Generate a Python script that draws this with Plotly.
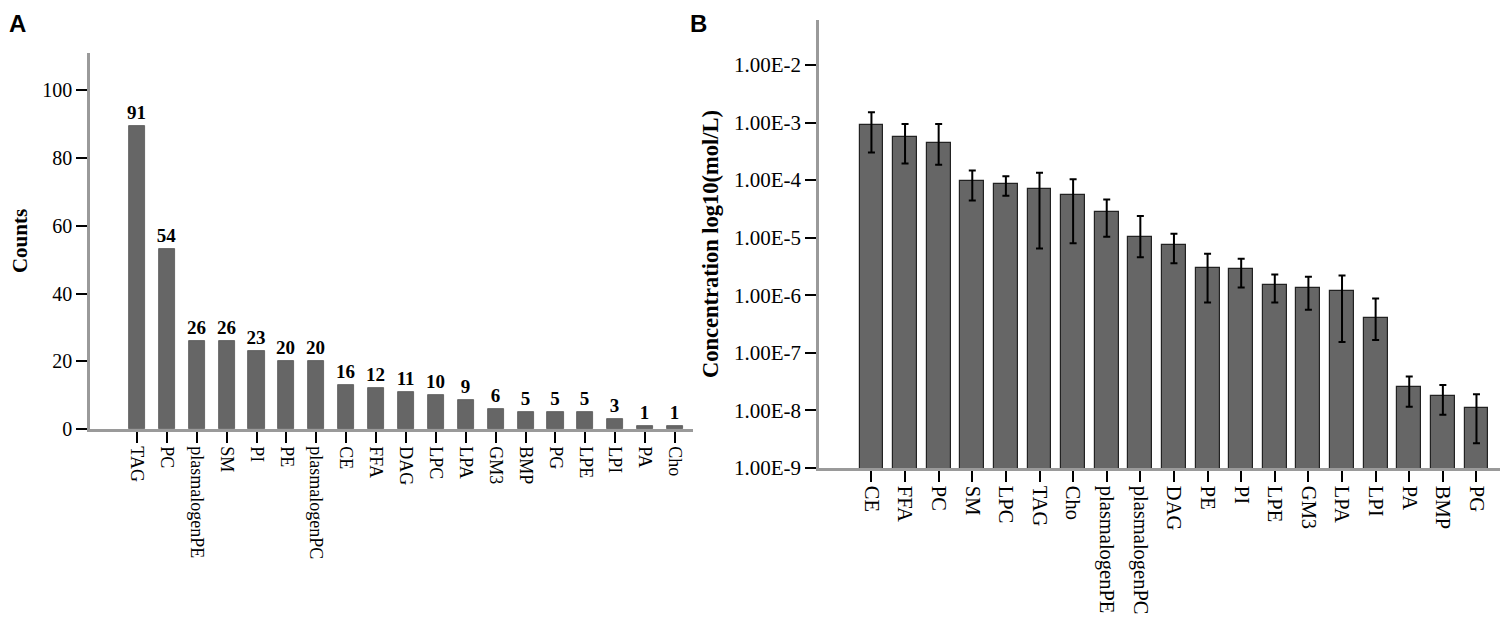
import plotly.graph_objects as go

# ---------------- Panel A data ----------------
cats_a = ["TAG", "PC", "plasmalogenPE", "SM", "PI", "PE", "plasmalogenPC", "CE", "FFA",
          "DAG", "LPC", "LPA", "GM3", "BMP", "PG", "LPE", "LPI", "PA", "Cho"]
bar_heights_a = [89.5, 53, 26, 26, 23, 20, 20, 13, 12, 11, 10, 8.5, 6, 5, 5, 5, 3, 1, 1]
count_labels_a = ["91", "54", "26", "26", "23", "20", "20", "16", "12", "11", "10", "9",
                  "6", "5", "5", "5", "3", "1", "1"]
yticks_a = [0, 20, 40, 60, 80, 100]

# ---------------- Panel B data ----------------
cats_b = ["CE", "FFA", "PC", "SM", "LPC", "TAG", "Cho", "plasmalogenPE", "plasmalogenPC",
          "DAG", "PE", "PI", "LPE", "GM3", "LPA", "LPI", "PA", "BMP", "PG"]
conc_b = [9.0e-4, 5.65e-4, 4.45e-4, 9.6e-5, 8.6e-5, 7.1e-5, 5.5e-5, 2.75e-5, 1.02e-5,
          7.6e-6, 2.96e-6, 2.81e-6, 1.52e-6, 1.35e-6, 1.2e-6, 4.1e-7, 2.55e-8, 1.8e-8, 1.09e-8]
upper_b = [1.5e-3, 9.4e-4, 9.4e-4, 1.47e-4, 1.17e-4, 1.34e-4, 1.03e-4, 4.6e-5, 2.37e-5,
           1.17e-5, 5.25e-6, 4.3e-6, 2.3e-6, 2.09e-6, 2.21e-6, 8.8e-7, 3.9e-8, 2.76e-8, 1.9e-8]
lower_b = [3.0e-4, 1.95e-4, 1.85e-4, 4.4e-5, 5.35e-5, 6.5e-6, 8.0e-6, 1.04e-5, 4.55e-6,
           3.58e-6, 7.5e-7, 1.37e-6, 7.5e-7, 5.6e-7, 1.54e-7, 1.67e-7, 1.16e-8, 8.4e-9, 2.7e-9]
ytickvals_b = [1e-9, 1e-8, 1e-7, 1e-6, 1e-5, 1e-4, 1e-3, 1e-2]
yticktext_b = ["1.00E-9", "1.00E-8", "1.00E-7", "1.00E-6", "1.00E-5", "1.00E-4",
               "1.00E-3", "1.00E-2"]

SERIF = "Liberation Serif, Times New Roman, serif"
BAR = "#666666"
AXIS = "#9a9a9a"

# figure is 1492x608 so that, with the page's 8px body margin, it fills 1508x624
W, H = 1492, 608

fig = go.Figure()

fig.add_trace(go.Bar(
    x=cats_a, y=bar_heights_a, text=count_labels_a, textposition="outside",
    constraintext="none", cliponaxis=False,
    textfont=dict(family=SERIF, size=19, color="black", weight="bold"),
    marker=dict(color=BAR, line=dict(color="#555555", width=0.8)),
    width=0.54, xaxis="x", yaxis="y", showlegend=False, hoverinfo="x+y",
))

fig.add_trace(go.Bar(
    x=cats_b, y=conc_b,
    error_y=dict(type="data", symmetric=False,
                 array=[u - v for u, v in zip(upper_b, conc_b)],
                 arrayminus=[v - l for v, l in zip(conc_b, lower_b)],
                 color="black", thickness=2, width=3.5),
    marker=dict(color=BAR, line=dict(color="#222222", width=1.2)),
    width=0.71, xaxis="x2", yaxis="y2", showlegend=False,
))

axis_common = dict(showline=True, linecolor=AXIS, linewidth=2.5, ticks="outside",
                   ticklen=11, tickwidth=2, tickcolor="black", showgrid=False,
                   zeroline=False, automargin=False)

fig.update_layout(
    width=W, height=H,
    margin=dict(l=0, r=0, t=0, b=0),
    paper_bgcolor="white", plot_bgcolor="white",
    font=dict(family=SERIF, color="black"),
    bargap=0,
    xaxis=dict(domain=[82 / W, 685 / W], anchor="y", range=[-1.57, 18.6],
               tickangle=90, tickfont=dict(family=SERIF, size=18), **axis_common),
    yaxis=dict(domain=[1 - 421 / H, 1 - 45 / H], anchor="x", range=[0, 111],
               tickvals=yticks_a, tickfont=dict(family=SERIF, size=20),
               title=dict(text="<b>Counts</b>", font=dict(family=SERIF, size=21), standoff=9),
               **axis_common),
    xaxis2=dict(domain=[811 / W, 1.0], anchor="y2", range=[-1.56, 18.7],
                tickangle=90, tickfont=dict(family=SERIF, size=20.5), **axis_common),
    yaxis2=dict(domain=[1 - 460 / H, 1 - 12 / H], anchor="x2", type="log", range=[-9, -1.22],
                tickvals=ytickvals_b, ticktext=yticktext_b,
                tickfont=dict(family=SERIF, size=21),
                title=dict(text="<b>Concentration log10(mol/L)</b>",
                           font=dict(family=SERIF, size=22.5), standoff=10),
                **axis_common),
    annotations=[
        dict(text="<b>A</b>", x=-0.001, y=1.0, xref="paper", yref="paper", xanchor="left",
             yanchor="top", showarrow=False,
             font=dict(family="Liberation Sans, Arial, sans-serif", size=24, color="black")),
        dict(text="<b>B</b>", x=680 / W, y=1.0, xref="paper", yref="paper",
             xanchor="left", yanchor="top", showarrow=False,
             font=dict(family="Liberation Sans, Arial, sans-serif", size=24, color="black")),
    ],
)

fig.write_html("out.html")
